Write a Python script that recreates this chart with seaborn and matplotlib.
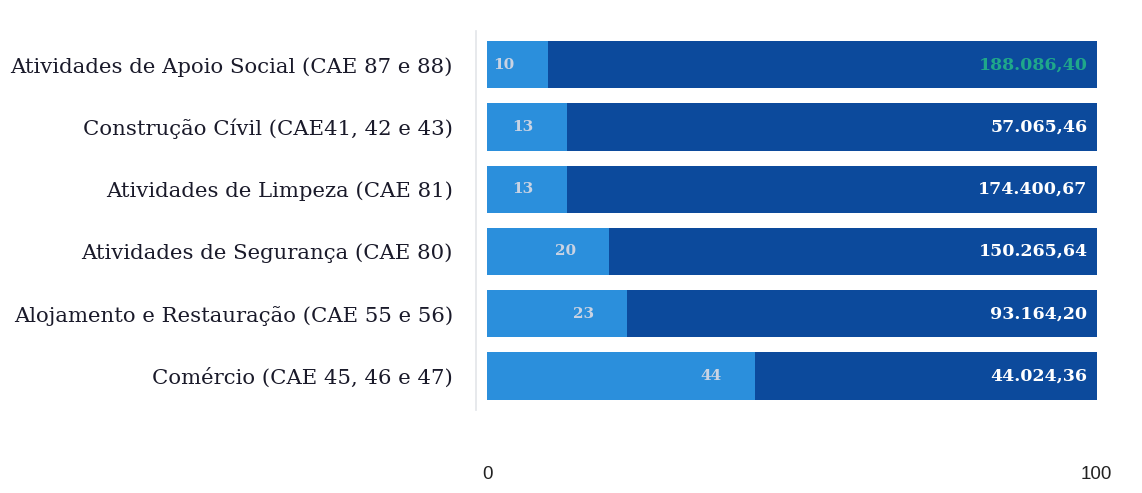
import matplotlib.pyplot as plt
import pandas as pd
import seaborn as sns

categorias = [
    "Atividades de Apoio Social (CAE 87 e 88)",
    "Construção Cívil (CAE41, 42 e 43)",
    "Atividades de Limpeza (CAE 81)",
    "Atividades de Segurança (CAE 80)",
    "Alojamento e Restauração (CAE 55 e 56)",
    "Comércio (CAE 45, 46 e 47)",
]
percentagem = [10, 13, 13, 20, 23, 44]
total = [100, 100, 100, 100, 100, 100]
montantes = ["188.086,40", "57.065,46", "174.400,67", "150.265,64", "93.164,20", "44.024,36"]
cor_montante = ["#1fa88a", "white", "white", "white", "white", "white"]

df = pd.DataFrame({"cat": categorias, "pct": percentagem, "total": total})

sns.set_theme(style="white")
fig = plt.figure(figsize=(11.42, 4.93), dpi=100)
ax = fig.add_axes([0.423, 0.168, 0.54, 0.77])

claro = "#2b8fdc"
escuro = "#0c4a9c"

sns.barplot(data=df, x="total", y="cat", color=escuro, width=0.76, ax=ax,
            saturation=1, linewidth=0)
sns.barplot(data=df, x="pct", y="cat", color=claro, width=0.76, ax=ax,
            saturation=1, linewidth=0)

for i, (p, m, c) in enumerate(zip(percentagem, montantes, cor_montante)):
    ax.text(p - 5.5, i, str(p), ha="right", va="center", color="#c9d3e3",
            fontsize=11, fontweight="bold", family="DejaVu Serif")
    ax.text(98.5, i, m, ha="right", va="center", color=c,
            fontsize=12.5, fontweight="bold", family="DejaVu Serif")

ax.set_xlim(-0.7, 100.5)
ax.set_ylim(5.55, -0.55)
ax.set_xticks([0, 100])
ax.set_xticklabels(["0", "100"], family="Liberation Sans", fontsize=13.5, color="#222222")
ax.tick_params(axis="x", pad=40, length=0)
ax.tick_params(axis="y", length=0, pad=17, labelsize=15.3, labelcolor="#1a1a2a",
               labelfontfamily="DejaVu Serif")
ax.set_xlabel(None)
ax.set_ylabel(None)
for s in ["top", "right", "bottom"]:
    ax.spines[s].set_visible(False)
ax.spines["left"].set_color("#e4e6ea")
ax.spines["left"].set_position(("data", -1.8))

plt.savefig("out.png", dpi=100)
